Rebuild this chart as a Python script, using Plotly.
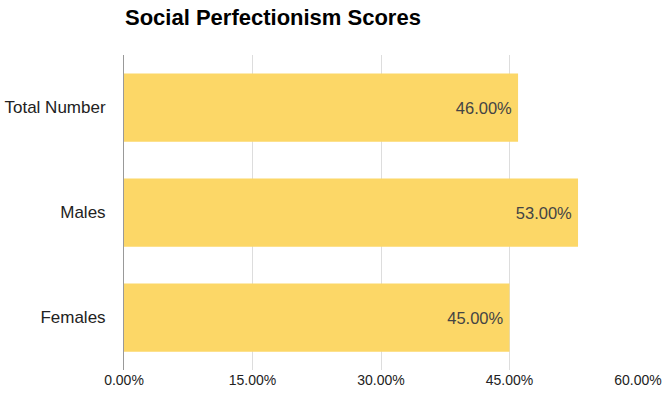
import plotly.graph_objects as go

categories = ["Total Number", "Males", "Females"]
values = [0.46, 0.53, 0.45]
tick_vals = [0, 0.15, 0.30, 0.45, 0.60]
tick_text = ["0.00%", "15.00%", "30.00%", "45.00%", "60.00%"]
labels = [f"{v*100:.2f}%\u2009" for v in values]

fig = go.Figure(go.Bar(
    x=values, y=categories, orientation="h",
    marker=dict(color="#FCD767", line=dict(width=0)),
    text=labels, textposition="inside", insidetextanchor="end",
    textfont=dict(family="Liberation Sans, Arial", size=16.5, color="#444444"),
    cliponaxis=False,
))

fig.update_layout(
    width=667, height=398,
    margin=dict(l=124, r=29, t=55, b=28),
    paper_bgcolor="white", plot_bgcolor="white",
    bargap=0.35,
    showlegend=False,
    title=dict(text="<b>Social Perfectionism Scores</b>", x=125/667, xanchor="left",
               y=1-17/398, yanchor="middle",
               font=dict(family="Liberation Sans, Arial", size=22, color="#000000")),
    font=dict(family="Liberation Sans, Arial", color="#222222"),
)
fig.update_xaxes(range=[0, 0.60], tickvals=tick_vals, ticktext=tick_text,
                 showgrid=True, gridcolor="#DDDDDD", gridwidth=1,
                 zeroline=False, showline=False, automargin=False,
                 tickfont=dict(size=14, color="#222222"), ticks="", ticklen=0)
fig.update_yaxes(categoryorder="array", categoryarray=categories, autorange="reversed",
                 showline=True, linecolor="#999999", linewidth=1, automargin=False,
                 tickfont=dict(size=17, color="#222222"), ticks="", ticklabelstandoff=14)

fig.write_html("out.html")
